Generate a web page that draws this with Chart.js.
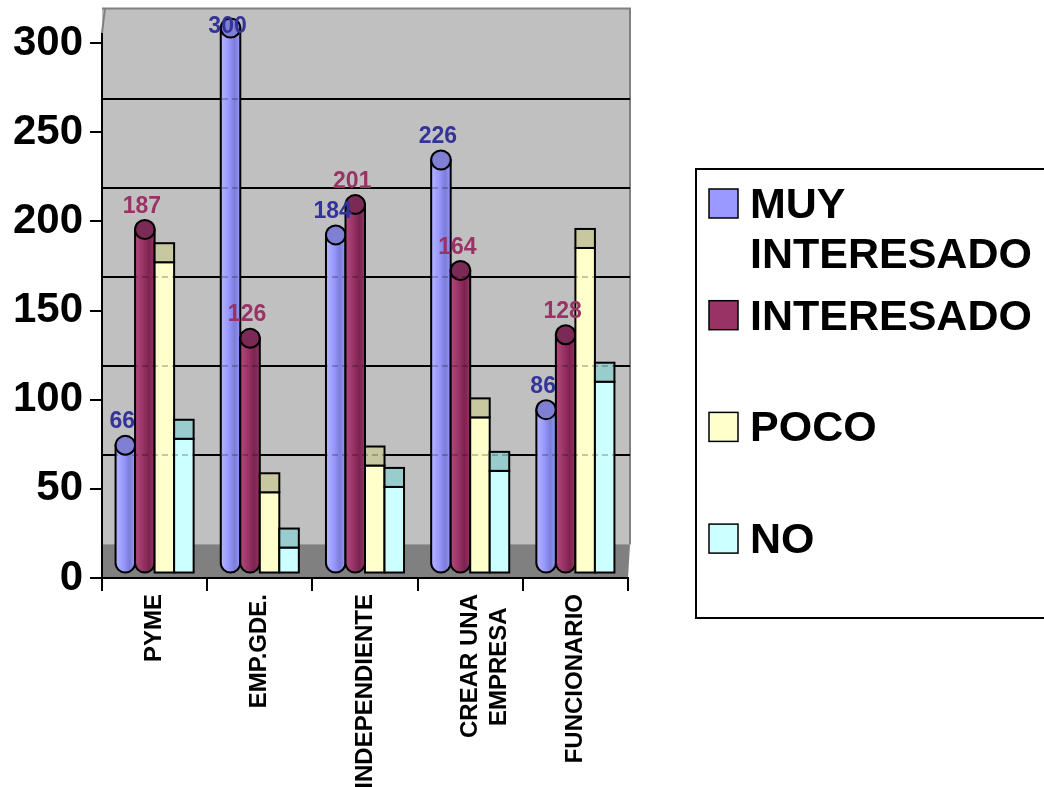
<!DOCTYPE html>
<html>
<head>
<meta charset="utf-8">
<script src="https://cdn.jsdelivr.net/npm/chart.js@4.4.1/dist/chart.umd.min.js"></script>
<style>
  html, body { margin: 0; padding: 0; background: #fff; }
  #wrap { width: 1044px; height: 787px; position: relative; }
</style>
</head>
<body>
<div id="wrap"><canvas id="chart" width="1044" height="787"></canvas></div>
<script>
// datos
const categories = ['PYME', 'EMP.GDE.', 'INDEPENDIENTE', ['CREAR UNA', 'EMPRESA  '], 'FUNCIONARIO'];
const seriesNames = ['MUY INTERESADO', 'INTERESADO', 'POCO', 'NO'];
const muyInteresado = [66, 300, 184, 226, 86];
const interesado = [187, 126, 201, 164, 128];
const poco = [174, 45, 60, 87, 182];
const no = [75, 14, 48, 57, 107];
const yTicks = [0, 50, 100, 150, 200, 250, 300];

const FONT = 'Arial, "Liberation Sans", sans-serif';
const DEPTH = 9.5;      // medio alto de la tapa 3D
const WALL_SHIFT = 33.5; // pared del fondo desplazada hacia arriba

const STYLES = [
    { kind: 'cyl', color: '#9999ff', light: '#b4b4ff', dark: '#7c7cd8', top: '#7f7fd4', label: '#333399' },
    { kind: 'cyl', color: '#993366', light: '#b24a7c', dark: '#7a244f', top: '#7b2a55', label: '#993366' },
    { kind: 'box', color: '#ffffcc', top: '#c8c8a0' },
    { kind: 'box', color: '#ccffff', top: '#99cccc' }
];

function drawCylinder(ctx, x, top, base, w, s) {
    const rx = w / 2, l = x - rx, r = x + rx;
    const g = ctx.createLinearGradient(l, 0, r, 0);
    g.addColorStop(0, s.light);
    g.addColorStop(0.4, s.color);
    g.addColorStop(0.72, s.dark);
    g.addColorStop(1, s.color);
    ctx.beginPath();
    ctx.moveTo(l, top);
    ctx.lineTo(l, base);
    ctx.ellipse(x, base, rx, DEPTH, 0, Math.PI, 0, true);
    ctx.lineTo(r, top);
    ctx.closePath();
    ctx.fillStyle = g;
    ctx.fill();
    ctx.stroke();
    ctx.beginPath();
    ctx.ellipse(x, top, rx, DEPTH, 0, 0, Math.PI * 2);
    ctx.fillStyle = s.top;
    ctx.fill();
    ctx.stroke();
}

function drawBox(ctx, x, top, base, w, s) {
    const l = x - w / 2;
    ctx.fillStyle = s.color;
    ctx.fillRect(l, top + DEPTH, w, base - top);
    ctx.strokeRect(l, top + DEPTH, w, base - top);
    ctx.fillStyle = s.top;
    ctx.fillRect(l, top - DEPTH, w, DEPTH * 2);
    ctx.strokeRect(l, top - DEPTH, w, DEPTH * 2);
}

const excel3d = {
    id: 'excel3d',
    beforeDraw(chart) {
        const { ctx, chartArea: a } = chart;
        const y = chart.scales.y;
        const wallTop = y.getPixelForValue(300) - WALL_SHIFT - 1;
        const wallBottom = y.getPixelForValue(0) - WALL_SHIFT;
        const right = a.right + 2;
        ctx.save();
        // pared
        ctx.fillStyle = '#c0c0c0';
        ctx.fillRect(a.left, wallTop, right - a.left, wallBottom - wallTop);
        ctx.strokeStyle = '#808080';
        ctx.lineWidth = 2;
        ctx.beginPath();
        ctx.moveTo(a.left, wallTop);
        ctx.lineTo(right, wallTop);
        ctx.lineTo(right, wallBottom);
        ctx.stroke();
        // piso
        ctx.fillStyle = '#808080';
        ctx.beginPath();
        ctx.moveTo(a.left, wallBottom);
        ctx.lineTo(right, wallBottom);
        ctx.lineTo(a.right, a.bottom);
        ctx.lineTo(a.left, a.bottom);
        ctx.closePath();
        ctx.fill();
        ctx.strokeStyle = '#9a9a9a';
        ctx.lineWidth = 1;
        ctx.beginPath();
        ctx.moveTo(a.left, wallBottom);
        ctx.lineTo(right, wallBottom);
        ctx.stroke();
        // lineas de division
        ctx.strokeStyle = '#000';
        ctx.lineWidth = 2;
        yTicks.slice(1, -1).forEach(v => {
            const py = Math.round(y.getPixelForValue(v) - WALL_SHIFT);
            ctx.beginPath();
            ctx.moveTo(a.left, py);
            ctx.lineTo(right, py);
            ctx.stroke();
        });
        // eje vertical hasta la pared
        ctx.beginPath();
        ctx.moveTo(a.left, a.top);
        ctx.lineTo(a.left, a.top - 10);
        ctx.stroke();
        ctx.strokeStyle = '#808080';
        ctx.beginPath();
        ctx.moveTo(a.left, a.top - 10);
        ctx.lineTo(a.left + 3, wallTop);
        ctx.stroke();
        ctx.restore();
    },
    beforeDatasetsDraw(chart) {
        const { ctx, chartArea: a } = chart;
        const y = chart.scales.y;
        ctx.save();
        ctx.strokeStyle = '#000';
        ctx.lineWidth = 2;
        chart.data.datasets.forEach((ds, i) => {
            const s = STYLES[i];
            chart.getDatasetMeta(i).data.forEach(el => {
                const p = el.getProps(['x', 'y', 'base', 'width'], true);
                if (s.kind === 'cyl') drawCylinder(ctx, p.x, p.y, p.base, p.width, s);
                else drawBox(ctx, p.x, p.y, p.base, p.width, s);
            });
        });
        // lineas de division que se transparentan
        ctx.strokeStyle = 'rgba(0,0,0,0.22)';
        ctx.setLineDash([6, 4]);
        yTicks.slice(1, -1).forEach(v => {
            const py = Math.round(y.getPixelForValue(v) - WALL_SHIFT);
            ctx.beginPath();
            ctx.moveTo(a.left, py);
            ctx.lineTo(a.right, py);
            ctx.stroke();
        });
        ctx.setLineDash([]);
        // etiquetas de datos
        ctx.font = 'bold 23px ' + FONT;
        ctx.textAlign = 'center';
        ctx.textBaseline = 'alphabetic';
        [0, 1].forEach(i => {
            const vals = chart.data.datasets[i].data;
            chart.getDatasetMeta(i).data.forEach((el, j) => {
                const p = el.getProps(['x', 'y'], true);
                ctx.fillStyle = STYLES[i].label;
                ctx.fillText(String(vals[j]), p.x - 3, Math.max(p.y - 17, 33));
            });
        });
        ctx.restore();
        return false;
    },
    afterDraw(chart) {
        const { ctx } = chart;
        ctx.save();
        // leyenda
        ctx.strokeStyle = '#000';
        ctx.lineWidth = 2;
        ctx.strokeRect(696, 169, 400, 449);
        ctx.font = 'bold 43px ' + FONT;
        ctx.textAlign = 'left';
        ctx.textBaseline = 'alphabetic';
        chart.data.datasets.forEach((ds, i) => {
            const base = 218 + i * 111.7;
            ctx.fillStyle = STYLES[i].color;
            ctx.fillRect(709, base - 29, 29, 29);
            ctx.lineWidth = 1.5;
            ctx.strokeRect(709, base - 29, 29, 29);
            ctx.fillStyle = '#000';
            const words = ds.label.split(' ');
            let line = '', ly = base;
            words.forEach(w => {
                const test = line ? line + ' ' + w : w;
                if (line && ctx.measureText(test).width > 290) {
                    ctx.fillText(line, 750, ly);
                    line = w;
                    ly += 50;
                } else {
                    line = test;
                }
            });
            ctx.fillText(line, 750, ly);
        });
        ctx.restore();
    }
};

const seriesData = [muyInteresado, interesado, poco, no];

new Chart(document.getElementById('chart'), {
    type: 'bar',
    data: {
        labels: categories,
        datasets: seriesNames.map((name, i) => ({
            label: name,
            data: seriesData[i],
            backgroundColor: STYLES[i].color,
            yAxisID: 'yb',
            clip: false,
            barPercentage: 1,
            categoryPercentage: 0.742
        }))
    },
    options: {
        responsive: false,
        devicePixelRatio: 1,
        animation: false,
        layout: { padding: { left: 0, top: 43, right: 416, bottom: 0 } },
        plugins: {
            legend: { display: false },
            tooltip: { enabled: false }
        },
        scales: {
            x: {
                offset: true,
                border: { display: true, color: '#000', width: 2 },
                grid: { offset: true, drawOnChartArea: false, drawTicks: true, tickLength: 13, color: '#000', lineWidth: 2 },
                ticks: {
                    autoSkip: false,
                    maxRotation: 90,
                    minRotation: 90,
                    padding: 3,
                    color: '#000',
                    font: { family: FONT, size: 24, weight: 'bold' }
                },
                afterFit: s => { s.height = 209; }
            },
            y: {
                position: 'left',
                min: 0,
                max: 300,
                border: { display: true, color: '#000', width: 2 },
                grid: { drawOnChartArea: false, drawTicks: true, tickLength: 12, color: '#000', lineWidth: 2 },
                ticks: {
                    stepSize: 50,
                    padding: 7,
                    color: '#000',
                    font: { family: FONT, size: 42, weight: 'bold' }
                },
                afterFit: s => { s.width = 102; }
            },
            yb: {
                display: false,
                min: -8.4,
                max: 291.6
            }
        }
    },
    plugins: [excel3d]
});
</script>
</body>
</html>
